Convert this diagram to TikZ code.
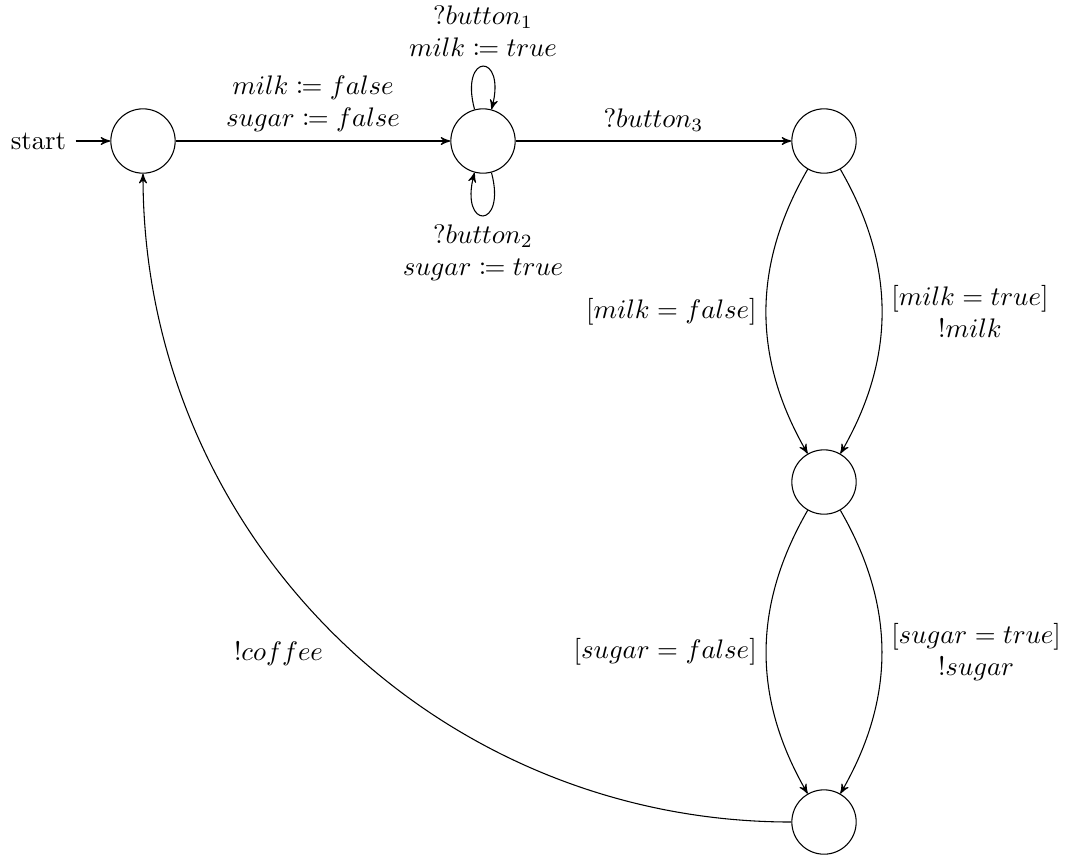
\documentclass[tikz,border=0pt]{standalone}
\usepackage{mathtools}
\usetikzlibrary{automata,arrows}
\begin{document}
\begin{tikzpicture}[x=0.373pt,y=-0.373pt,>=stealth',
  every state/.style={draw,circle,minimum size=2.4em,inner sep=0pt},
  every loop/.style={looseness=9,min distance=3mm},
  lbl/.style={align=center}]
  \useasboundingbox (0,0) rectangle (1065,857);

  % states of the coffee machine
  \node[state,initial,initial text=start] (q0) at (143,141) {};
  \node[state] (q1) at (483,141) {};
  \node[state] (q2) at (824,141) {};
  \node[state] (q3) at (824,482) {};
  \node[state] (q4) at (824,822) {};

  % transitions
  \path[->]
    (q0) edge node[above,lbl] {$milk \coloneqq false$\\$sugar \coloneqq false$} (q1)
    (q1) edge[loop above] node[above,lbl] {$?button_1$\\$milk \coloneqq true$} ()
    (q1) edge[loop below] node[below,lbl] {$?button_2$\\$sugar \coloneqq true$} ()
    (q1) edge node[above] {$?button_3$} (q2)
    (q2) edge[bend right=30] node[left] {$[milk = false]$} (q3)
    (q2) edge[bend left=30] node[right,lbl] {$[milk = true]$\\$!milk$} (q3)
    (q3) edge[bend right=30] node[left] {$[sugar = false]$} (q4)
    (q3) edge[bend left=30] node[right,lbl] {$[sugar = true]$\\$!sugar$} (q4)
    (q4) edge[out=180,in=-90] node[below left] {$!coffee$} (q0);
\end{tikzpicture}
\end{document}
